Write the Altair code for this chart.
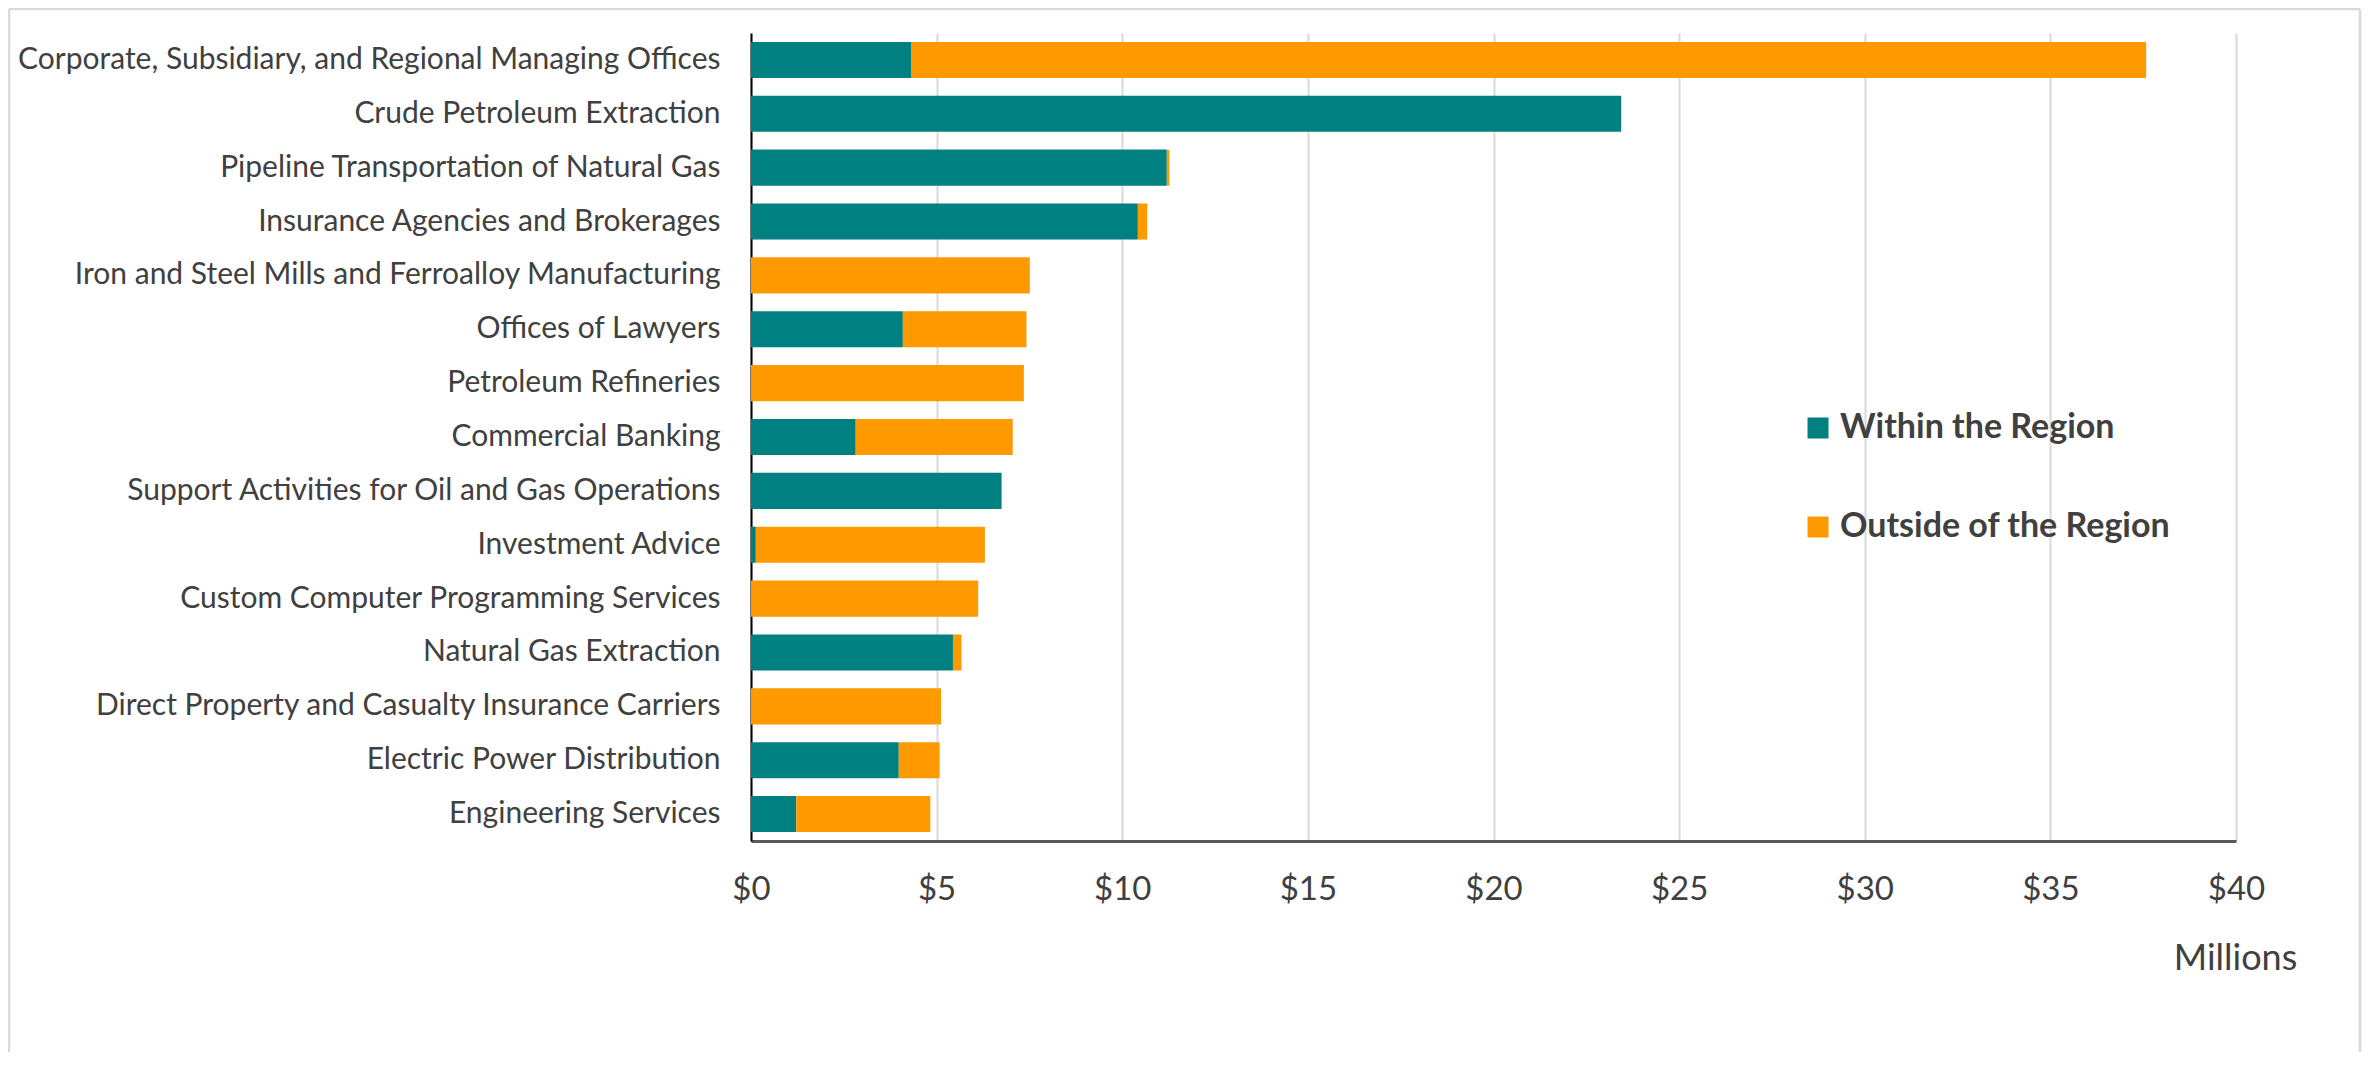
import altair as alt
import pandas as pd

industries = [
    "Corporate, Subsidiary, and Regional Managing Offices",
    "Crude Petroleum Extraction",
    "Pipeline Transportation of Natural Gas",
    "Insurance Agencies and Brokerages",
    "Iron and Steel Mills and Ferroalloy Manufacturing",
    "Offices of Lawyers",
    "Petroleum Refineries",
    "Commercial Banking",
    "Support Activities for Oil and Gas Operations",
    "Investment Advice",
    "Custom Computer Programming Services",
    "Natural Gas Extraction",
    "Direct Property and Casualty Insurance Carriers",
    "Electric Power Distribution",
    "Engineering Services",
]
within = [4.31, 23.44, 11.20, 10.42, 0.0, 4.09, 0.0, 2.82, 6.75, 0.13, 0.0, 5.44, 0.0, 3.98, 1.22]
outside = [33.27, 0.0, 0.07, 0.25, 7.51, 3.33, 7.35, 4.23, 0.0, 6.17, 6.12, 0.23, 5.12, 1.10, 3.61]
series = ["Within the Region", "Outside of the Region"]
colors = ["#008080", "#FF9900"]
x_ticks = [0, 5, 10, 15, 20, 25, 30, 35, 40]

rows = []
for i, name in enumerate(industries):
    rows.append({"industry": name, "region": series[0], "value": within[i], "ord": 0})
    rows.append({"industry": name, "region": series[1], "value": outside[i], "ord": 1})
df = pd.DataFrame(rows)

FONT = "Lato"
TXT = "#404040"
W, H = 1485, 808

bars = alt.Chart(df).mark_bar().encode(
    y=alt.Y(
        "industry:N",
        sort=industries,
        title=None,
        scale=alt.Scale(paddingInner=0.33, paddingOuter=0.165),
        axis=alt.Axis(
            labelFont=FONT, labelFontSize=30, labelColor=TXT, labelPadding=31,
            labelLimit=1000, ticks=False, domainColor="#000000", domainWidth=2,
            grid=False,
        ),
    ),
    x=alt.X(
        "value:Q",
        stack="zero",
        scale=alt.Scale(domain=[0, 40], nice=False),
        title="Millions",
        axis=alt.Axis(
            values=x_ticks, format="$.0f", labelFont=FONT, labelFontSize=33,
            labelColor=TXT, labelPadding=32, labelFlush=False, ticks=False, grid=True,
            gridColor="#d9d9d9", gridWidth=2, domainColor="#595959", domainWidth=3,
            titleFont=FONT, titleFontSize=36, titleFontWeight="normal",
            titleColor=TXT, titleX=1484, titleY=117, titleAlign="center",
            titleBaseline="middle",
        ),
    ),
    color=alt.Color(
        "region:N",
        scale=alt.Scale(domain=series, range=colors),
        title=None,
        legend=alt.Legend(
            orient="none", legendX=1050, legendY=378, symbolType="square",
            symbolSize=441, symbolStrokeWidth=0, labelFont=FONT, labelFontSize=34,
            labelFontWeight="bold", labelColor=TXT, rowPadding=65, labelOffset=5,
            labelLimit=1000, padding=0,
        ),
    ),
    order=alt.Order("ord:Q"),
)

frame_df = pd.DataFrame({"k": [0]})
frame_color = "#d9d9d9"
top = alt.Chart(frame_df).mark_rule(color=frame_color, strokeWidth=2.5).encode(
    x=alt.value(-742), x2=alt.value(1609), y=alt.value(-24)
)
left = alt.Chart(frame_df).mark_rule(color=frame_color, strokeWidth=2.5).encode(
    x=alt.value(-742), y=alt.value(-24), y2=alt.value(1019)
)
right = alt.Chart(frame_df).mark_rule(color=frame_color, strokeWidth=2.5).encode(
    x=alt.value(1609), y=alt.value(-24), y2=alt.value(1019)
)

chart = alt.layer(bars, top, left, right).properties(
    width=W,
    height=H,
    padding={"left": 743, "top": 25, "right": 128, "bottom": 212},
    autosize=alt.AutoSizeParams(type="none"),
    background="white",
).configure_view(strokeWidth=0)

chart.save("out.html", embed_options={"renderer": "svg", "actions": False})
